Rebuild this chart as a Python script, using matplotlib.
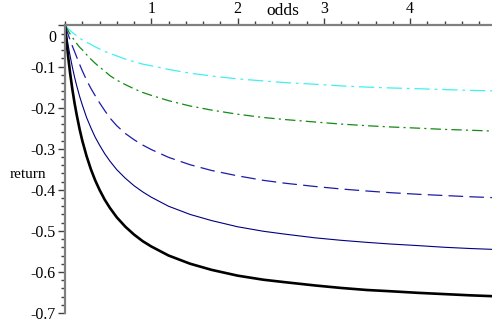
import numpy as np
import matplotlib
matplotlib.use("Agg")
import matplotlib.pyplot as plt
from matplotlib.ticker import MultipleLocator, FixedLocator, FixedFormatter

plt.rcParams['font.family'] = ['Liberation Serif', 'DejaVu Serif']
plt.rcParams['lines.scale_dashes'] = False

# values (odds -> return), same odds grid for every curve
odds = [0, 0.02, 0.04, 0.06, 0.085, 0.11, 0.136, 0.17, 0.2, 0.25, 0.3, 0.35, 0.4, 0.46, 0.52,
        0.6, 0.7, 0.8, 0.9, 1.0, 1.2, 1.45, 1.7, 2.0, 2.3, 2.55, 2.9, 3.2, 3.5, 3.77, 4.1, 4.4, 4.7, 4.95]

ret_black = [0, -0.044, -0.082, -0.117, -0.155, -0.188, -0.218, -0.253, -0.28, -0.318, -0.35, -0.377,
             -0.40, -0.424, -0.444, -0.467, -0.49, -0.509, -0.525, -0.538, -0.56, -0.58, -0.595, -0.609,
             -0.619, -0.625, -0.633, -0.639, -0.644, -0.647, -0.651, -0.654, -0.657, -0.659]

ret_navy = [0, -0.027, -0.052, -0.075, -0.101, -0.125, -0.147, -0.173, -0.193, -0.224, -0.249, -0.272,
            -0.291, -0.312, -0.330, -0.351, -0.372, -0.390, -0.405, -0.418, -0.440, -0.460, -0.475, -0.490,
            -0.501, -0.508, -0.517, -0.523, -0.528, -0.532, -0.536, -0.540, -0.543, -0.545]

ret_dash = [0, -0.012, -0.024, -0.036, -0.05, -0.063, -0.077, -0.095, -0.11, -0.133, -0.153, -0.171,
            -0.188, -0.207, -0.225, -0.244, -0.263, -0.278, -0.291, -0.302, -0.321, -0.339, -0.353, -0.366,
            -0.377, -0.384, -0.392, -0.398, -0.403, -0.407, -0.411, -0.414, -0.417, -0.419]

ret_green = [0, -0.007, -0.014, -0.021, -0.029, -0.036, -0.044, -0.053, -0.059, -0.071, -0.082, -0.092,
             -0.101, -0.111, -0.122, -0.133, -0.144, -0.154, -0.163, -0.170, -0.183, -0.196, -0.206, -0.216,
             -0.224, -0.229, -0.235, -0.240, -0.244, -0.247, -0.250, -0.253, -0.255, -0.257]

ret_cyan = [0, -0.004, -0.008, -0.012, -0.017, -0.021, -0.025, -0.031, -0.035, -0.041, -0.046, -0.052,
            -0.057, -0.063, -0.068, -0.074, -0.082, -0.088, -0.094, -0.098, -0.107, -0.116, -0.123, -0.130,
            -0.135, -0.139, -0.143, -0.147, -0.150, -0.152, -0.154, -0.156, -0.158, -0.159]

ytick_vals = [-0.7, -0.6, -0.5, -0.4, -0.3, -0.2, -0.1, 0]
ytick_text = ['-0.7', '-0.6', '-0.5', '-0.4', '-0.3', '-0.2', '-0.1', '']
xtick_vals = [1, 2, 3, 4]

fig = plt.figure(figsize=(4.92, 3.24), dpi=100)
ax = fig.add_axes([65 / 492, 1 - 313 / 324, 1 - 65 / 492, (313 - 25.5) / 324])

ax.plot(odds, ret_cyan, color='#40f0f0', lw=0.9, dashes=(11, 3.5, 2, 3.5))
ax.plot(odds, ret_green, color='#138a13', lw=0.9, dashes=(7.5, 3, 1.5, 3))
ax.plot(odds, ret_dash, color='#1c1ca8', lw=0.9, dashes=(10.5, 4.5))
ax.plot(odds, ret_navy, color='#000080', lw=0.8)
ax.plot(odds, ret_black, color='black', lw=1.9)

ax.set_xlim(0, 4.95)
ax.set_ylim(-0.7, 0)

for side in ['right', 'bottom']:
    ax.spines[side].set_visible(False)
for side in ['left', 'top']:
    ax.spines[side].set_color('#808080')
    ax.spines[side].set_linewidth(1.6)

ax.xaxis.tick_top()
ax.xaxis.set_major_locator(FixedLocator(xtick_vals))
ax.xaxis.set_minor_locator(MultipleLocator(0.2))
ax.yaxis.set_major_locator(FixedLocator(ytick_vals))
ax.yaxis.set_major_formatter(FixedFormatter(ytick_text))
ax.yaxis.set_minor_locator(MultipleLocator(0.02))
ax.tick_params(which='major', length=5, width=1, color='#404040', labelsize=11.5, pad=1)
ax.tick_params(which='minor', length=3, width=1, color='#404040')
ax.tick_params(axis='y', which='major', pad=2)

ax.text(-0.02, -0.03, '0', transform=ax.get_yaxis_transform(), ha='right', va='center', fontsize=11.5)
ax.annotate('odds', xy=(2.52, 1.0), xycoords=ax.get_xaxis_transform(), xytext=(0, 5),
            textcoords='offset points', ha='center', va='bottom', fontsize=12.5)
fig.text(28 / 492, 1 - 174 / 324, 'return', ha='center', va='center', fontsize=11)

fig.savefig('out.png', dpi=100)
